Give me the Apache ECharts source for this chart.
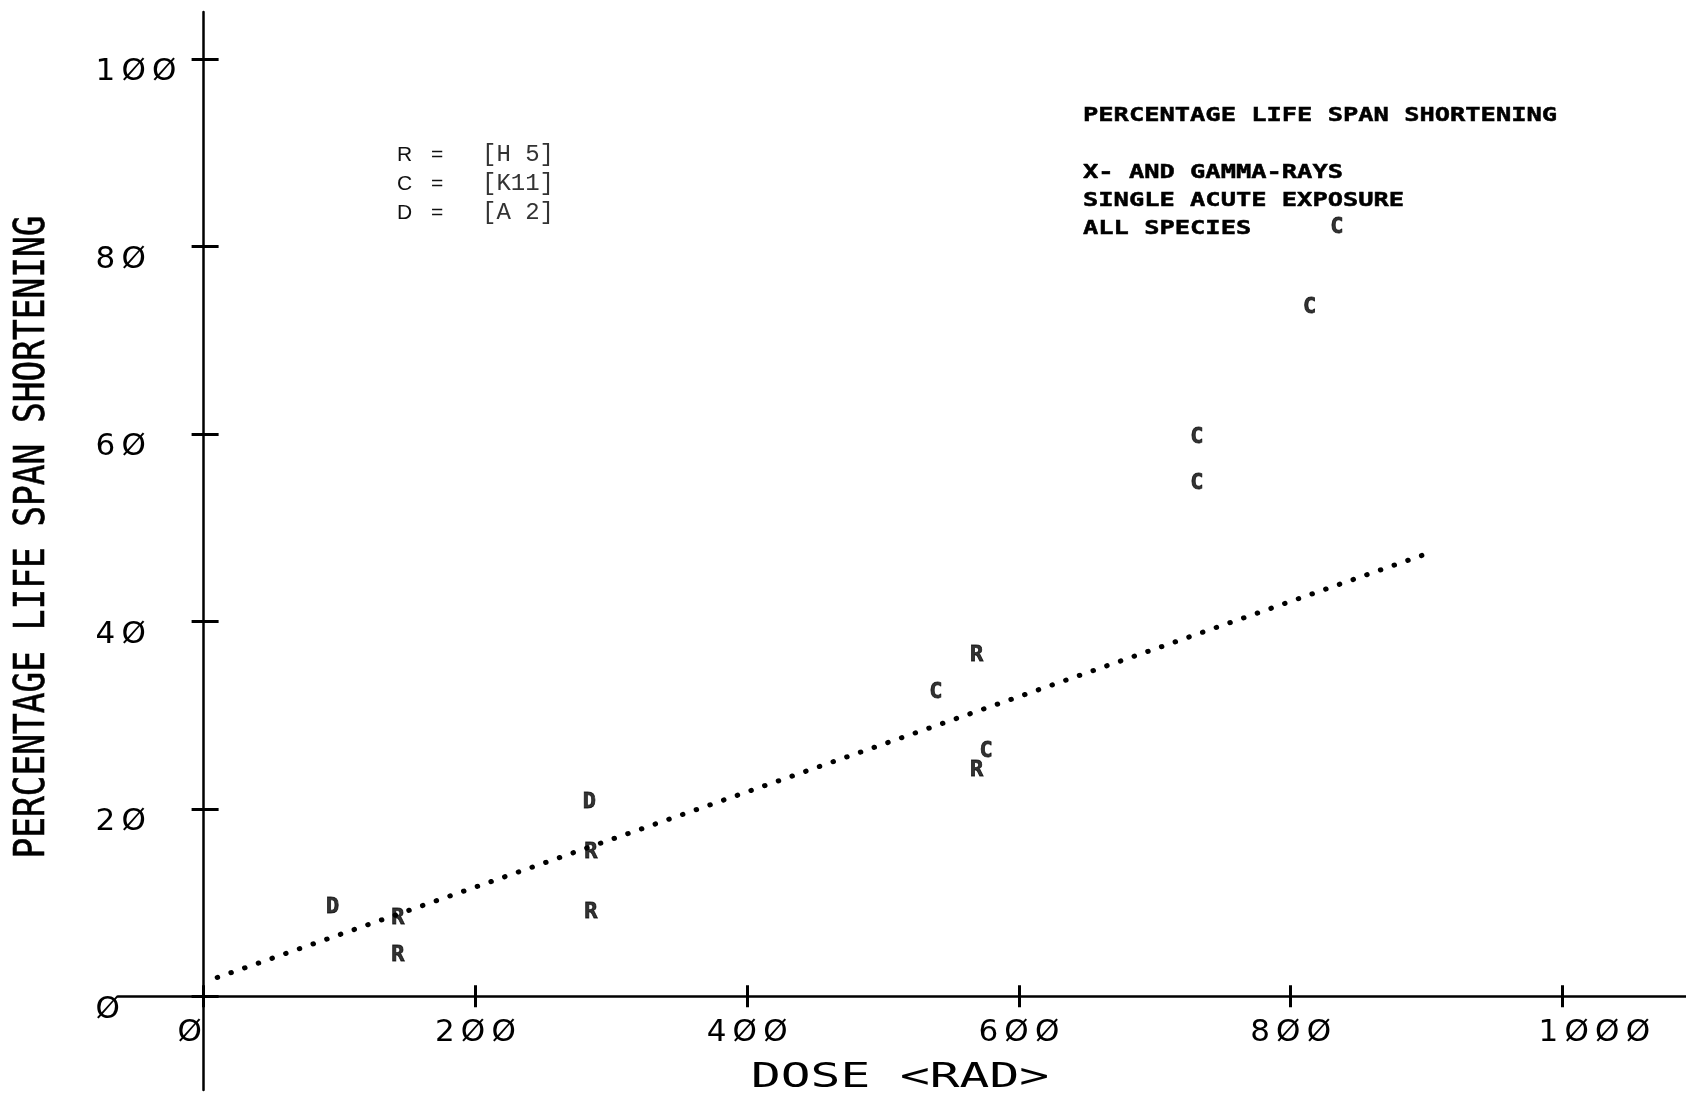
<!DOCTYPE html>
<html><head><meta charset="utf-8">
<script src="https://cdn.jsdelivr.net/npm/echarts@6/dist/echarts.min.js"></script>
<style>html,body{margin:0;padding:0;background:#fff}#c{width:1686px;height:1095px}</style>
</head><body><div id="c"></div>
<script>
// ---- data ----
const xTicks = [0, 200, 400, 600, 800, 1000];
const yTicks = [0, 20, 40, 60, 80, 100];
const seriesR = [[143, 8.3], [143, 4.4], [285, 15.4], [285, 9.0], [569, 36.4], [569, 24.1]];
const seriesC = [[539, 32.4], [576, 26.1], [731, 59.6], [731, 54.7], [814, 73.5], [834, 82.0]];
const seriesD = [[95, 9.5], [284, 20.7]];
const fitLine = [[10, 2.0], [900, 47.2]];
const legendKeys = ['R', 'C', 'D'];
const legendRefs = ['[H 5]', '[K11]', '[A 2]'];
const noteTitle = 'PERCENTAGE LIFE SPAN SHORTENING';
const noteLines = ['X- AND GAMMA-RAYS', 'SINGLE ACUTE EXPOSURE', 'ALL SPECIES'];
const xTitle = 'DOSE <RAD>';
const yTitle = 'PERCENTAGE LIFE SPAN SHORTENING';

// ---- chart ----
const MONO = '"DejaVu Sans Mono", monospace';
const TICKF = '"DejaVu Sans", sans-serif';
const spaced = v => String(v).split('').map(c => c === '0' ? 'Ø' : c).join('\u2009');

const X_MIN = -63, X_MAX = 1091, Y_MIN = -10, Y_MAX = 105;
const G = {left: 118, right: 0, top: 12, bottom: 5, W: 1686, H: 1095};
const plotW = G.W - G.left - G.right, plotH = G.H - G.top - G.bottom;
// place axis lines at the zero of the other axis (through the scale ratios)
const xAxisOffset = -(plotH * (0 - Y_MIN) / (Y_MAX - Y_MIN));
const yAxisOffset = -(plotW * (0 - X_MIN) / (X_MAX - X_MIN));

const gridBox = {left: G.left, right: G.right, top: G.top, bottom: G.bottom,
  containLabel: false, outerBoundsMode: 'none'};
const axisLineStyle = {color: '#000', width: 2.5};
const tickStyle = {color: '#000', width: 3};
const labelFont = {fontFamily: TICKF, fontSize: 31, color: '#000'};

function xAxisDef(grid, main) {
  return {
    gridIndex: grid, type: 'value', min: X_MIN, max: X_MAX, position: 'bottom', offset: xAxisOffset,
    axisLine: {show: main, onZero: false, lineStyle: axisLineStyle},
    axisTick: {show: true, inside: !main, length: 11, customValues: xTicks, lineStyle: tickStyle},
    axisLabel: main ? Object.assign({show: true, customValues: xTicks, margin: 21,
      formatter: v => v === 0 ? '{l|' + spaced(v) + '}' : (v >= 1000 ? '{r|' + spaced(v) + '}' : spaced(v)),
      rich: {l: Object.assign({padding: [0, 28, 0, 0]}, labelFont),
             r: Object.assign({padding: [0, 0, 0, 64]}, labelFont)}}, labelFont) : {show: false},
    splitLine: {show: false}
  };
}
function yAxisDef(grid, main) {
  return {
    gridIndex: grid, type: 'value', min: Y_MIN, max: Y_MAX, position: 'left', offset: yAxisOffset,
    axisLine: {show: main, onZero: false, lineStyle: axisLineStyle},
    axisTick: {show: true, inside: !main, length: main ? 12 : 15, customValues: yTicks, lineStyle: tickStyle},
    axisLabel: main ? Object.assign({show: true, customValues: yTicks, formatter: spaced, margin: 108,
      align: 'left', verticalAlign: 'top', padding: [-2, 0, 0, 0]}, labelFont) : {show: false},
    splitLine: {show: false}
  };
}

function letterSeries(key, data) {
  return {
    type: 'scatter', name: key, data: data, symbolSize: 2, silent: true,
    itemStyle: {color: 'rgba(0,0,0,0)'},
    label: {show: true, position: 'inside', formatter: key, fontFamily: MONO,
      fontWeight: 'bold', fontSize: 22, color: '#000', textBorderColor: '#000', textBorderWidth: 0.8},
    z: 5
  };
}

const graphics = [];
graphics.push({type: 'text', x: 33, y: 537, rotation: Math.PI / 2, scaleX: 0.82,
  style: {text: yTitle, font: 'normal 42px ' + MONO, fill: '#000', stroke: '#000', lineWidth: 0.6,
    align: 'center', verticalAlign: 'middle', textAlign: 'center', textVerticalAlign: 'middle'}});
graphics.push({type: 'text', x: 900, y: 1078, scaleX: 1.5,
  style: {text: xTitle, font: 'normal 33px ' + MONO, fill: '#000',
    align: 'center', verticalAlign: 'middle', textAlign: 'center', textVerticalAlign: 'middle'}});
legendKeys.forEach((k, i) => {
  const y = 155 + 29 * i;
  graphics.push({type: 'text', x: 397, y: y, style: {text: k, font: 'normal 21px "Liberation Sans", sans-serif',
    fill: '#111', verticalAlign: 'middle', textVerticalAlign: 'middle'}});
  graphics.push({type: 'text', x: 431, y: y, style: {text: '=', font: 'normal 21px "Liberation Sans", sans-serif',
    fill: '#111', verticalAlign: 'middle', textVerticalAlign: 'middle'}});
  graphics.push({type: 'text', x: 482, y: y, style: {text: legendRefs[i], font: 'normal 24px "Liberation Mono", monospace',
    fill: '#333', verticalAlign: 'middle', textVerticalAlign: 'middle'}});
});
graphics.push({type: 'text', x: 1083, y: 116, scaleX: 1.27,
  style: {text: noteTitle, font: 'bold 20px ' + MONO, fill: '#000', stroke: '#000', lineWidth: 0.5,
    verticalAlign: 'middle', textVerticalAlign: 'middle'}});
noteLines.forEach((t, i) => {
  graphics.push({type: 'text', x: 1083, y: 173 + 28 * i, scaleX: 1.27,
    style: {text: t, font: 'bold 20px ' + MONO, fill: '#000', stroke: '#000', lineWidth: 0.5,
      verticalAlign: 'middle', textVerticalAlign: 'middle'}});
});

const chart = echarts.init(document.getElementById('c'), null, {renderer: 'canvas'});
chart.setOption({
  backgroundColor: '#fff',
  animation: false,
  grid: [Object.assign({}, gridBox), Object.assign({}, gridBox)],
  xAxis: [xAxisDef(0, true), xAxisDef(1, false)],
  yAxis: [yAxisDef(0, true), yAxisDef(1, false)],
  series: [
    {type: 'line', data: fitLine, symbol: 'none', showSymbol: false, silent: true,
      lineStyle: {color: '#000', width: 5, type: [0.5, 14], cap: 'round'}},
    letterSeries('R', seriesR),
    letterSeries('C', seriesC),
    letterSeries('D', seriesD)
  ],
  graphic: graphics
});
</script></body></html>
